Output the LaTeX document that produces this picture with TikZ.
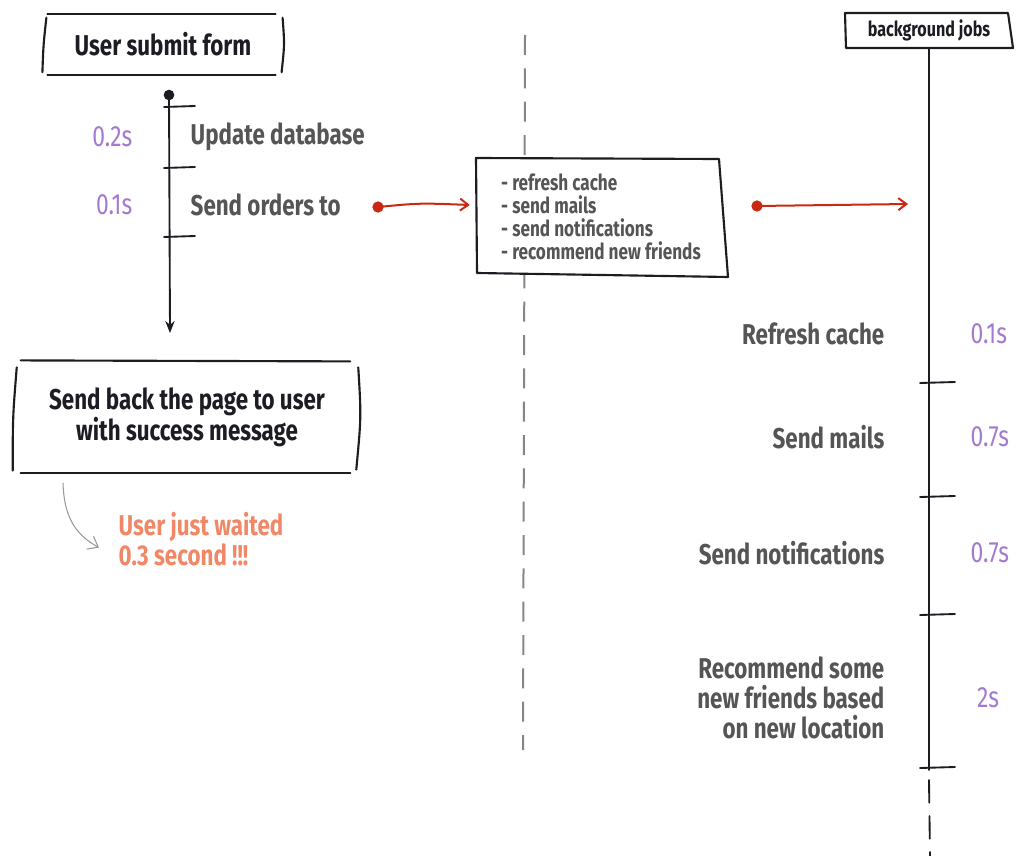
\documentclass[tikz,border=0pt]{standalone}
\usepackage{fontspec}
\setmainfont{Fira Sans}[FakeStretch=0.78]
\usetikzlibrary{calc,arrows.meta}

\definecolor{ink}{HTML}{1C1C22}
\definecolor{txtgray}{HTML}{555555}
\definecolor{timepurple}{HTML}{A47AD0}
\definecolor{redink}{HTML}{C92812}
\definecolor{salmon}{HTML}{F08868}
\definecolor{dashgray}{HTML}{858585}
\definecolor{pencil}{HTML}{9A9A9A}

\begin{document}
\begin{tikzpicture}[x=0.75pt,y=-0.75pt,
  title/.style={font=\fontsize{21.5}{21.5}\selectfont\bfseries, text=ink, align=center},
  smalltitle/.style={font=\fontsize{15.5}{18}\selectfont\bfseries, text=ink},
  steplabel/.style={font=\fontsize{21.5}{22.5}\selectfont\bfseries, text=txtgray},
  timelabel/.style={font=\fontsize{22}{22}\selectfont, text=timepurple},
  listtext/.style={font=\fontsize{16.5}{17.25}\selectfont\bfseries, text=txtgray, align=left},
  note/.style={font=\fontsize{21.5}{22.5}\selectfont\bfseries, text=salmon, align=left},
  frame/.style={draw=ink, line width=1.6pt, line cap=round, line join=round},
  timeline/.style={draw=ink, line width=1.4pt, line cap=round},
  tick/.style={draw=ink, line width=1.4pt, line cap=round},
  reddot/.style={circle, fill=redink, inner sep=0pt, minimum size=8.5pt},
  inkdot/.style={circle, fill=ink, inner sep=0pt, minimum size=8pt},
  redarrow/.style={draw=redink, line width=1.5pt, line cap=round,
    -{Straight Barb[length=6pt,width=9pt,line width=1.5pt]}},
  divider/.style={draw=dashgray, line width=1.5pt, dash pattern=on 15pt off 10pt}
]
\useasboundingbox (0,0) rectangle (1017,856);

% ---- vertical divider between request and background work
\coordinate (divtop) at (525,35);
\coordinate (divbot) at (523,750);
\draw[divider] (divtop) -- (divbot);

% ---- request side: form submission box
\node[title, minimum width=179pt, minimum height=45.75pt] (submit) at (163,44.5) {User submit form};
\draw[frame] ($(submit.north west)+(4,0)$) -- ($(submit.north east)+(-7,0)$);
\draw[frame] ($(submit.south west)+(4,0)$) -- ($(submit.south east)+(-7,0)$);
\draw[frame] ($(submit.north west)+(3,4)$) .. controls ($(submit.west)+(0,0)$) .. ($(submit.south west)+(-1,-3)$);
\draw[frame] ($(submit.north east)+(0,4)$) .. controls ($(submit.east)+(2,0)$) .. ($(submit.south east)+(-1,-3)$);

% ---- request timeline
\node[inkdot] (start) at (169,95) {};
\coordinate (tlend) at (170,333);
\draw[timeline, -{Stealth[length=9pt,width=7pt]}] (start.center) -- (tlend);
\foreach \y/\n in {107/ta,168/tb,237/tc}{
  \coordinate (\n) at (164,\y);
  \draw[tick] (\n) -- ++(31,-1);
}

\node[timelabel, anchor=east] (t02) at (137,137) {0.2s};
\node[steplabel, anchor=west] (updb) at (186,137) {Update database};
\node[timelabel, anchor=east] (t01) at (137,205) {0.1s};
\node[steplabel, anchor=west] (sendord) at (186,205) {Send orders to};

% ---- queued jobs list (white card over the divider)
\draw[frame, fill=white] (476,158) -- (719,159) -- (728,277) -- (477,273) -- cycle;
\node[listtext, minimum width=189pt, minimum height=87pt] (jobs) at (601,217)
  {- refresh cache\\- send mails\\- send notifications\\- recommend new friends};

\node[reddot] (d1) at (378,207) {};
\draw[redarrow] (d1.center) .. controls (420,203) .. ($(jobs.west)+(-5,-12)$);

\node[reddot] (d2) at (757,206) {};
\coordinate (bgin) at (908,204);
\draw[redarrow] (d2.center) -- (bgin);

% ---- response box
\node[title, minimum width=259.5pt, minimum height=83pt] (reply) at (187,417)
  {Send back the page to user\\with success message};
\draw[frame] ($(reply.north west)+(7,-1)$) -- ($(reply.north east)+(-10,0)$);
\draw[frame] ($(reply.south west)+(7,0)$) -- ($(reply.south east)+(-10,0)$);
\draw[frame] ($(reply.north west)+(3,6)$) .. controls ($(reply.west)+(-1,0)$) .. ($(reply.south west)+(-1,-2)$);
\draw[frame] ($(reply.north east)+(-2,6)$) .. controls ($(reply.east)+(1,0)$) .. ($(reply.south east)+(-4,-3)$);

\node[note, anchor=north west] (waited) at (114,508) {User just waited\\0.3 second !!!};
\coordinate (penstart) at (63,483);
\draw[pencil, line width=0.8pt, -{Straight Barb[length=7pt,width=11pt,line width=0.8pt]}]
  (penstart) .. controls (64,515) and (74,534) .. ($(waited.west)+(-15,8)$);

% ---- background jobs
\node[smalltitle, minimum width=124pt, minimum height=26pt] (bg) at (929,30.5) {background jobs};
\draw[frame] (845,13) -- (1008,13) -- (1013,48) -- (846,48) -- cycle;

\coordinate (bgend) at (929,770);
\coordinate (bgtail) at (930,856);
\draw[timeline] (bg.south) -- (bgend);
\draw[timeline, dash pattern=on 17pt off 10pt] ($(bgend)+(0,10)$) -- (bgtail);
\foreach \y/\n in {383/ua,497/ub,615/uc,768/ud}{
  \coordinate (\n) at (920,\y);
  \draw[tick] (\n) -- ++(35,-1);
}

\node[steplabel, anchor=east] (rc) at (889,334) {Refresh cache};
\node[steplabel, anchor=east] (sm) at (889,437) {Send mails};
\node[steplabel, anchor=east] (sn) at (889,553) {Send notifications};
\node[steplabel, anchor=east, align=right] (rf) at (889,698)
  {Recommend some\\new friends based\\on new location};

\node[timelabel, anchor=west] (r01) at (966,334) {0.1s};
\node[timelabel, anchor=west] (r07a) at (966,437) {0.7s};
\node[timelabel, anchor=west] (r07b) at (966,553) {0.7s};
\node[timelabel] (r2) at (988,698) {2s};
\end{tikzpicture}
\end{document}
